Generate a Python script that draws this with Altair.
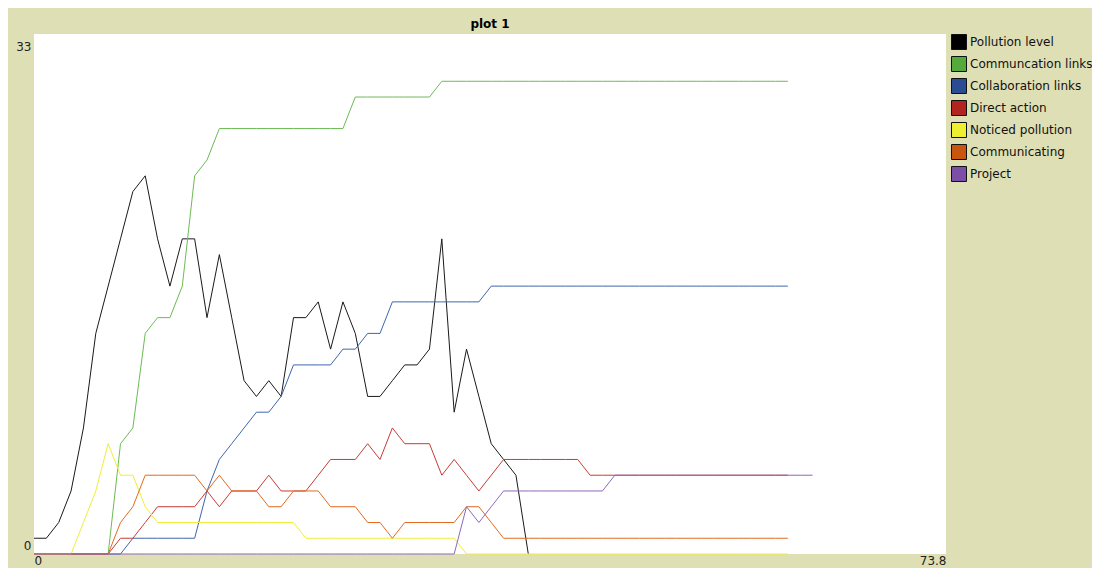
import altair as alt
import pandas as pd

FONT = "DejaVu Sans"

series_names = ["Pollution level", "Communcation links", "Collaboration links",
                "Direct action", "Noticed pollution", "Communicating", "Project"]
line_colors = ["#1A1A1A", "#6CBB55", "#3D66B0", "#C83C34", "#EEEE3A", "#E26A1F", "#8C68BC"]
legend_colors = ["#000000", "#56AA3C", "#2B4B92", "#B2241F", "#EFEF32", "#C9560F", "#7B4FA8"]

x_ticks = [0, 73.8]
y_ticks = [0, 33]

pollution_level = [1, 1, 2, 4, 8, 14, 17, 20, 23, 24, 20, 17, 20, 20, 15, 19, 15, 11, 10, 11,
                   10, 15, 15, 16, 13, 16, 14, 10, 10, 11, 12, 12, 13, 20, 9, 13, 10, 7, 6, 5,
                   0]
communication_links = [0, 0, 0, 0, 0, 0, 0, 7, 8, 14, 15, 15, 17, 24, 25, 27, 27, 27, 27, 27,
                       27, 27, 27, 27, 27, 27, 29, 29, 29, 29, 29, 29, 29, 30, 30, 30, 30, 30, 30, 30,
                       30, 30, 30, 30, 30, 30, 30, 30, 30, 30, 30, 30, 30, 30, 30, 30, 30, 30, 30, 30,
                       30, 30]
collaboration_links = [0, 0, 0, 0, 0, 0, 0, 0, 1, 1, 1, 1, 1, 1, 4, 6, 7, 8, 9, 9,
                       10, 12, 12, 12, 12, 13, 13, 14, 14, 16, 16, 16, 16, 16, 16, 16, 16, 17, 17, 17,
                       17, 17, 17, 17, 17, 17, 17, 17, 17, 17, 17, 17, 17, 17, 17, 17, 17, 17, 17, 17,
                       17, 17]
direct_action = [0, 0, 0, 0, 0, 0, 0, 1, 1, 2, 3, 3, 3, 3, 4, 3, 4, 4, 4, 5,
                 4, 4, 4, 5, 6, 6, 6, 7, 6, 8, 7, 7, 7, 5, 6, 5, 4, 5, 6, 6,
                 6, 6, 6, 6, 6, 5, 5, 5, 5, 5, 5, 5, 5, 5, 5, 5, 5, 5, 5, 5,
                 5, 5]
noticed_pollution = [0, 0, 0, 0, 2, 4, 7, 5, 5, 3, 2, 2, 2, 2, 2, 2, 2, 2, 2, 2,
                     2, 2, 1, 1, 1, 1, 1, 1, 1, 1, 1, 1, 1, 1, 1, 0, 0, 0, 0, 0,
                     0, 0, 0, 0, 0, 0, 0, 0, 0, 0, 0, 0, 0, 0, 0, 0, 0, 0, 0, 0,
                     0, 0]
communicating = [0, 0, 0, 0, 0, 0, 0, 2, 3, 5, 5, 5, 5, 5, 4, 5, 4, 4, 4, 3,
                 3, 4, 4, 4, 3, 3, 3, 2, 2, 1, 2, 2, 2, 2, 2, 3, 3, 2, 1, 1,
                 1, 1, 1, 1, 1, 1, 1, 1, 1, 1, 1, 1, 1, 1, 1, 1, 1, 1, 1, 1,
                 1, 1]
project = [0, 0, 0, 0, 0, 0, 0, 0, 0, 0, 0, 0, 0, 0, 0, 0, 0, 0, 0, 0,
           0, 0, 0, 0, 0, 0, 0, 0, 0, 0, 0, 0, 0, 0, 0, 3, 2, 3, 4, 4,
           4, 4, 4, 4, 4, 4, 4, 5, 5, 5, 5, 5, 5, 5, 5, 5, 5, 5, 5, 5,
           5, 5, 5, 5]

all_series = [pollution_level, communication_links, collaboration_links, direct_action,
              noticed_pollution, communicating, project]

rows = []
for name, vals in zip(series_names, all_series):
    for t, v in enumerate(vals):
        rows.append({"tick": t, "value": v, "series": name})
df = pd.DataFrame(rows)

legend_scale = alt.Scale(domain=series_names, range=legend_colors)

x_enc = alt.X("tick:Q",
              scale=alt.Scale(domain=[0, 73.8], nice=False, zero=False),
              axis=alt.Axis(values=x_ticks, format=".1~f", labelFlush=True, ticks=False,
                            domain=False, grid=False, title=None, labelPadding=1,
                            labelFont=FONT, labelFontSize=12, labelColor="#222222"))
y_enc = alt.Y("value:Q",
              scale=alt.Scale(domain=[0, 33], nice=False),
              axis=alt.Axis(values=y_ticks, labelFlush=True, labelFlushOffset=-4.5,
                            labelOffset=2.5, ticks=False, domain=False, grid=False,
                            title=None, labelPadding=3, labelFont=FONT, labelFontSize=12,
                            labelColor="#222222"))

layers = []
for name, col in zip(series_names, line_colors):
    layers.append(
        alt.Chart(df)
        .transform_filter(alt.datum.series == name)
        .mark_line(strokeWidth=1, color=col)
        .encode(x=x_enc, y=y_enc, order="tick:Q")
    )

legend_layer = (
    alt.Chart(df)
    .mark_point(shape="square", filled=True, size=0, opacity=1)
    .encode(x=x_enc, y=y_enc,
            color=alt.Color("series:N", scale=legend_scale, sort=series_names,
                            legend=alt.Legend(title=None, orient="right", offset=5,
                                              symbolType="square", symbolSize=225,
                                              symbolStrokeColor="#111111", symbolStrokeWidth=1,
                                              symbolOpacity=1,
                                              labelFont=FONT, labelFontSize=12,
                                              labelColor="#111111", rowPadding=2,
                                              labelOffset=3, padding=0, labelLimit=200)))
)

chart = (
    alt.layer(legend_layer, *layers)
    .properties(
        width=912, height=520,
        autosize=alt.AutoSizeParams(type="none"),
        padding={"left": 26, "top": 26, "right": 146, "bottom": 14},
        background="#DFDFB5",
        title=alt.Title("plot 1", anchor="middle", frame="group", font=FONT,
                        fontSize=12, fontWeight="bold", color="#000000", offset=3),
    )
    .configure_view(fill="white", stroke=None)
)

chart.save("out.html", embed_options={"renderer": "svg", "actions": False})
